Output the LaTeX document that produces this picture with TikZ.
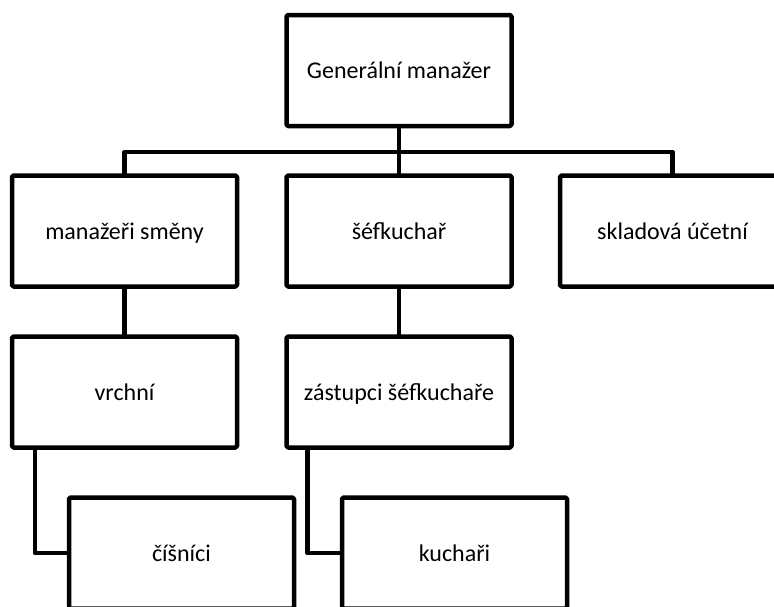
\documentclass[tikz,border=0pt]{standalone}
\usepackage{fontspec}
\setmainfont{Carlito}
\begin{document}
\begin{tikzpicture}[x=1pt,y=-1pt,
  line width=4.5pt, line join=round,
  orgbox/.style={draw, rectangle, rounded corners=1.5pt, fill=white,
    minimum width=225pt, minimum height=111pt, inner sep=0pt, outer sep=0pt,
    text height=20pt, text depth=4pt,
    font=\fontsize{24}{28}\selectfont},
  link/.style={draw, line width=4.5pt}]
  \useasboundingbox (0,0) rectangle (774,606);

  % chart boxes
  \node[orgbox] (gm) at (399,70.5) {Generální manažer};
  \node[orgbox] (ms) at (124.5,231) {manažeři směny};
  \node[orgbox] (sk) at (399,231) {šéfkuchař};
  \node[orgbox] (su) at (672.5,231) {skladová účetní};
  \node[orgbox] (vr) at (124.5,392) {vrchní};
  \node[orgbox] (zs) at (399,392) {zástupci šéfkuchaře};
  \node[orgbox] (ci) at (181.5,553) {číšníci};
  \node[orgbox] (ku) at (454.5,553) {kuchaři};

  % connectors
  \coordinate (bus) at (399,152);
  \draw[link] (gm.south) -- (bus);
  \draw[link] (ms.north) |- (bus) -| (su.north);
  \draw[link] (bus) -- (sk.north);
  \draw[link] (ms.south) -- (vr.north);
  \draw[link] (sk.south) -- (zs.north);
  \draw[link] ([xshift=23pt]vr.south west) |- (ci.west);
  \draw[link] ([xshift=21pt]zs.south west) |- (ku.west);
\end{tikzpicture}
\end{document}
